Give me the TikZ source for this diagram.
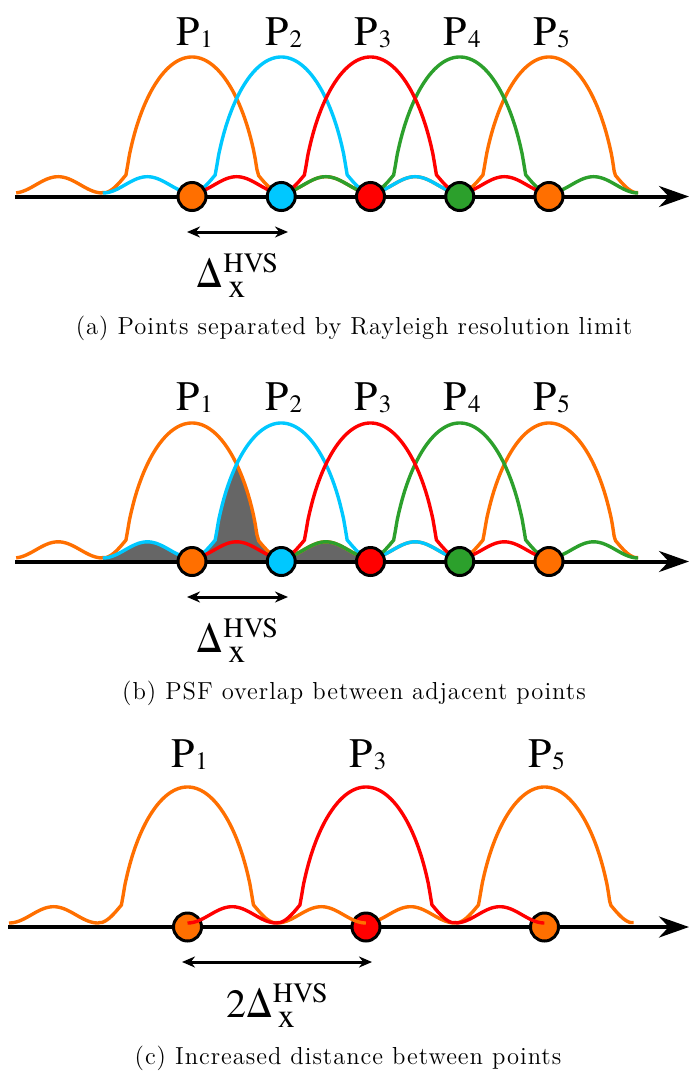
\documentclass[tikz,border=0pt]{standalone}
\usepackage{fontspec}
\usepackage{xcolor}
\usepackage{tikz}
\usetikzlibrary{arrows.meta,positioning}
\newfontfamily\timesfont{texgyretermes-regular.otf}
\newfontfamily\capfont[LetterSpace=4]{Latin Modern Roman}
\definecolor{cOrange}{HTML}{FF6F00}
\definecolor{cBlue}  {HTML}{00C8FF}
\definecolor{cRed}   {HTML}{FF0000}
\definecolor{cGreen} {HTML}{2CA02C}
\definecolor{cGrey}  {HTML}{666666}
\newcommand{\psub}[1]{\kern0.5pt\raisebox{-1.2pt}{\fontsize{12.5}{12.5}\selectfont #1}}
\newcommand{\dhvs}{Δ\rlap{\raisebox{-5pt}{\kern2.5pt\fontsize{17}{17}\selectfont x}}\raisebox{7.5pt}{\fontsize{14}{14}\selectfont HVS}}
% colour, centre, baseline, height, domain
\newcommand{\psfplot}[5]{\draw[psf, #1] plot[domain=#5, samples=201]
  ({#2+89.25*\x}, {#3-#4*psfval(\x)});}

\begin{document}
\begin{tikzpicture}[
  x=0.5pt, y=-0.5pt,
  declare function={psfval(\u)=(abs(\u)<1)*max(pow(max(0.0001,1-pow(abs(\u)/0.75,2)),0.62),
      0.25*sin(180*\u)*sin(180*\u)) + (abs(\u)>=1)*0.12*sin(180*\u)*sin(180*\u);},
  axisline/.style={line width=2pt, -{Stealth[length=15pt, width=10.5pt]}},
  psf/.style={line width=1.7pt},
  ovl/.style={fill=cGrey},
  pt/.style={circle, draw=black, line width=1.5pt, minimum size=14pt, inner sep=0pt},
  lbl/.style={font=\timesfont\fontsize{21}{21}\selectfont, anchor=base, inner sep=0pt},
  dlab/.style={font=\timesfont\fontsize{20}{20}\selectfont, anchor=base, inner sep=0pt},
  captext/.style={font=\capfont\fontsize{12.3}{14}\selectfont, inner sep=0pt},
  arr/.style={{Stealth[length=6.5pt, width=5.5pt]}-{Stealth[length=6.5pt, width=5.5pt]}, line width=1.5pt}
]
\useasboundingbox (0,0) rectangle (690,1077);

% (a) Rayleigh limit
\coordinate (axa0) at (15,196.5);
\coordinate (axa1) at (689,196.5);
\draw[axisline] (axa0) -- (axa1);
\psfplot{cOrange}{192}{193}{136}{-1.97:2}
\psfplot{cOrange}{549}{193}{136}{-2:1}
\psfplot{cBlue}{281.25}{193}{136}{-2:2}
\psfplot{cGreen}{459.75}{193}{136}{-2:2}
\psfplot{cRed}{370.5}{193}{136}{-2:2}
\node[pt, fill=cOrange] (p1a) at (192,196.5) {};
\node[pt, fill=cBlue]   (p2a) at (281.25,196.5) {};
\node[pt, fill=cRed]    (p3a) at (370.5,196.5) {};
\node[pt, fill=cGreen]  (p4a) at (459.75,196.5) {};
\node[pt, fill=cOrange] (p5a) at (549,196.5) {};
\node[lbl] (l1a) at (194.5,45) {P\psub{1}};
\node[lbl] (l2a) at (283.75,45) {P\psub{2}};
\node[lbl] (l3a) at (373,45) {P\psub{3}};
\node[lbl] (l4a) at (462.25,45) {P\psub{4}};
\node[lbl] (l5a) at (551.5,45) {P\psub{5}};
\coordinate (da0) at (187,232);
\coordinate (da1) at (288,232);
\draw[arr] (da0) -- (da1);
\node[dlab] (dla) at (237.5,287) {\dhvs};
\node[captext] (capa) at (354,328) {(a) Points separated by Rayleigh resolution limit};

% (b) overlap
\fill[ovl] plot[domain=-1:2, samples=151]
  ({192+89.25*\x}, {558-135*min(psfval(\x),psfval(\x-1))}) -- (370.5,561.5) -- (102.75,561.5) -- cycle;
\coordinate (axb0) at (15,561.5);
\coordinate (axb1) at (689,561.5);
\draw[axisline] (axb0) -- (axb1);
\psfplot{cOrange}{192}{558}{135}{-1.97:2}
\psfplot{cOrange}{549}{558}{135}{-2:1}
\psfplot{cBlue}{281.25}{558}{135}{-2:2}
\psfplot{cGreen}{459.75}{558}{135}{-2:2}
\psfplot{cRed}{370.5}{558}{135}{-2:2}
\node[pt, fill=cOrange] (p1b) at (192,561.5) {};
\node[pt, fill=cBlue]   (p2b) at (281.25,561.5) {};
\node[pt, fill=cRed]    (p3b) at (370.5,561.5) {};
\node[pt, fill=cGreen]  (p4b) at (459.75,561.5) {};
\node[pt, fill=cOrange] (p5b) at (549,561.5) {};
\node[lbl] (l1b) at (194.5,410) {P\psub{1}};
\node[lbl] (l2b) at (283.75,410) {P\psub{2}};
\node[lbl] (l3b) at (373,410) {P\psub{3}};
\node[lbl] (l4b) at (462.25,410) {P\psub{4}};
\node[lbl] (l5b) at (551.5,410) {P\psub{5}};
\coordinate (db0) at (187,597);
\coordinate (db1) at (288,597);
\draw[arr] (db0) -- (db1);
\node[dlab] (dlb) at (237.5,652) {\dhvs};
\node[captext] (capb) at (354,693) {(b) PSF overlap between adjacent points};

% (c) doubled distance
\coordinate (axc0) at (8,927);
\coordinate (axc1) at (689,927);
\draw[axisline] (axc0) -- (axc1);
\psfplot{cOrange}{544.5}{923}{136}{-2:1}
\node[pt, fill=cOrange] (p1c) at (187.5,927) {};
\node[pt, fill=cRed]    (p3c) at (366,927) {};
\node[pt, fill=cOrange] (p5c) at (544.5,927) {};
\psfplot{cOrange}{187.5}{923}{136}{-2:2}
\psfplot{cRed}{366}{923}{136}{-2:2}
\node[lbl] (l1c) at (189.5,767) {P\psub{1}};
\node[lbl] (l3c) at (368,767) {P\psub{3}};
\node[lbl] (l5c) at (546.5,767) {P\psub{5}};
\coordinate (dc0) at (182,962);
\coordinate (dc1) at (372,962);
\draw[arr] (dc0) -- (dc1);
\node[dlab] (dlc) at (277,1017) {2\dhvs};
\node[captext] (capc) at (348,1058) {(c) Increased distance between points};
\end{tikzpicture}
\end{document}
